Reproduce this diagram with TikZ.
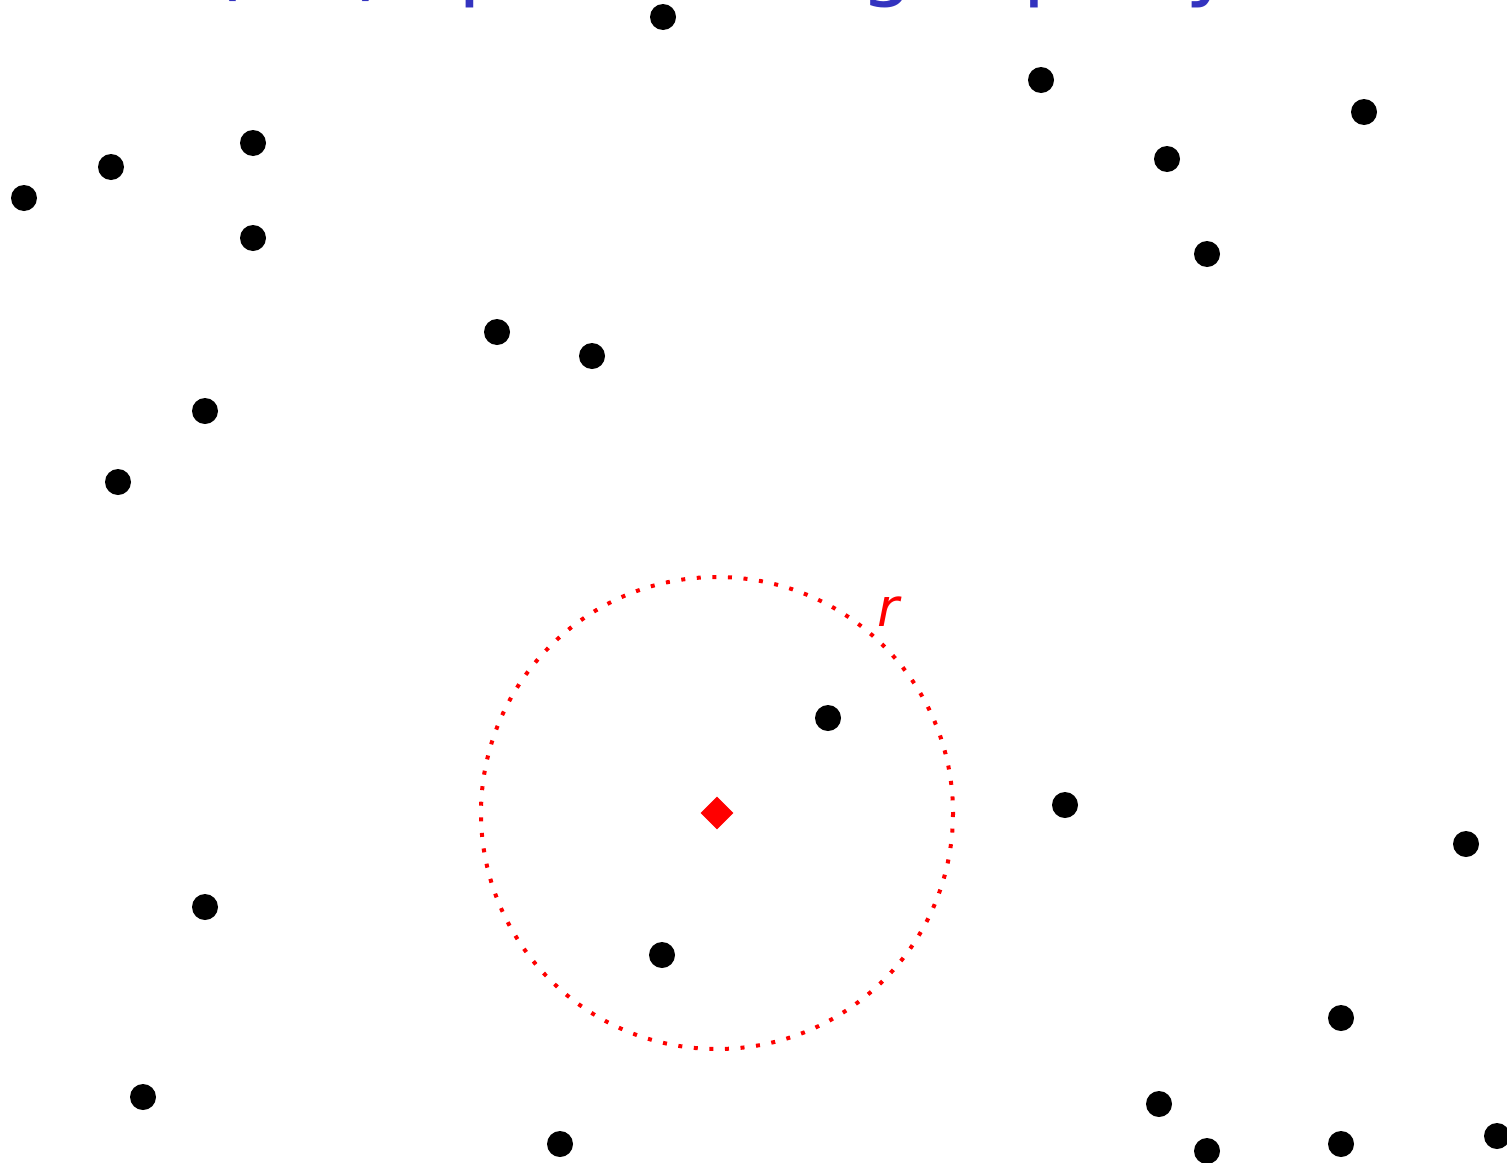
\documentclass[tikz,border=0pt]{standalone}
\usepackage{fontspec}
\setmainfont{DejaVu Sans}
\usetikzlibrary{shapes.geometric}
\definecolor{titleblue}{RGB}{51,51,191}
\begin{document}
\begin{tikzpicture}[x=1pt,y=-1pt,
  pt/.style={circle,fill=black,inner sep=0pt,minimum size=26pt},
  qry/.style={diamond,fill=red,inner sep=0pt,minimum width=33pt,minimum height=33pt},
  ring/.style={red,line width=4pt,dash pattern=on 4pt off 11.6pt}]
\useasboundingbox (0,0) rectangle (1507,1162);
\node[anchor=base west,text=titleblue,font=\fontsize{84}{100}\selectfont,inner sep=0pt] (title) at (210,-10) {(\textit{r},\textit{k}) spatial range query};
\node[pt] (p1) at (663,17) {};
\node[pt] (p2) at (1041,80) {};
\node[pt] (p3) at (1364,112) {};
\node[pt] (p4) at (111,167) {};
\node[pt] (p5) at (253,143) {};
\node[pt] (p6) at (24,198) {};
\node[pt] (p7) at (1167,159) {};
\node[pt] (p8) at (253,238) {};
\node[pt] (p9) at (1207,254) {};
\node[pt] (p10) at (497,332) {};
\node[pt] (p11) at (592,356) {};
\node[pt] (p12) at (205,411) {};
\node[pt] (p13) at (118,482) {};
\node[pt] (p14) at (828,718) {};
\node[pt] (p15) at (1065,805) {};
\node[pt] (p16) at (1466,844) {};
\node[pt] (p17) at (205,907) {};
\node[pt] (p18) at (662,955) {};
\node[pt] (p19) at (1341,1018) {};
\node[pt] (p20) at (143,1097) {};
\node[pt] (p21) at (1159,1104) {};
\node[pt] (p22) at (560,1144) {};
\node[pt] (p23) at (1207,1151) {};
\node[pt] (p24) at (1341,1144) {};
\node[pt] (p25) at (1497,1136) {};
\node[qry] (q) at (717,813) {};
\draw[ring] (q.center) circle[radius=236];
\node[text=red,font=\fontsize{53}{60}\selectfont\itshape,inner sep=0pt] (rlabel) at (888,612) {r};
\end{tikzpicture}
\end{document}
